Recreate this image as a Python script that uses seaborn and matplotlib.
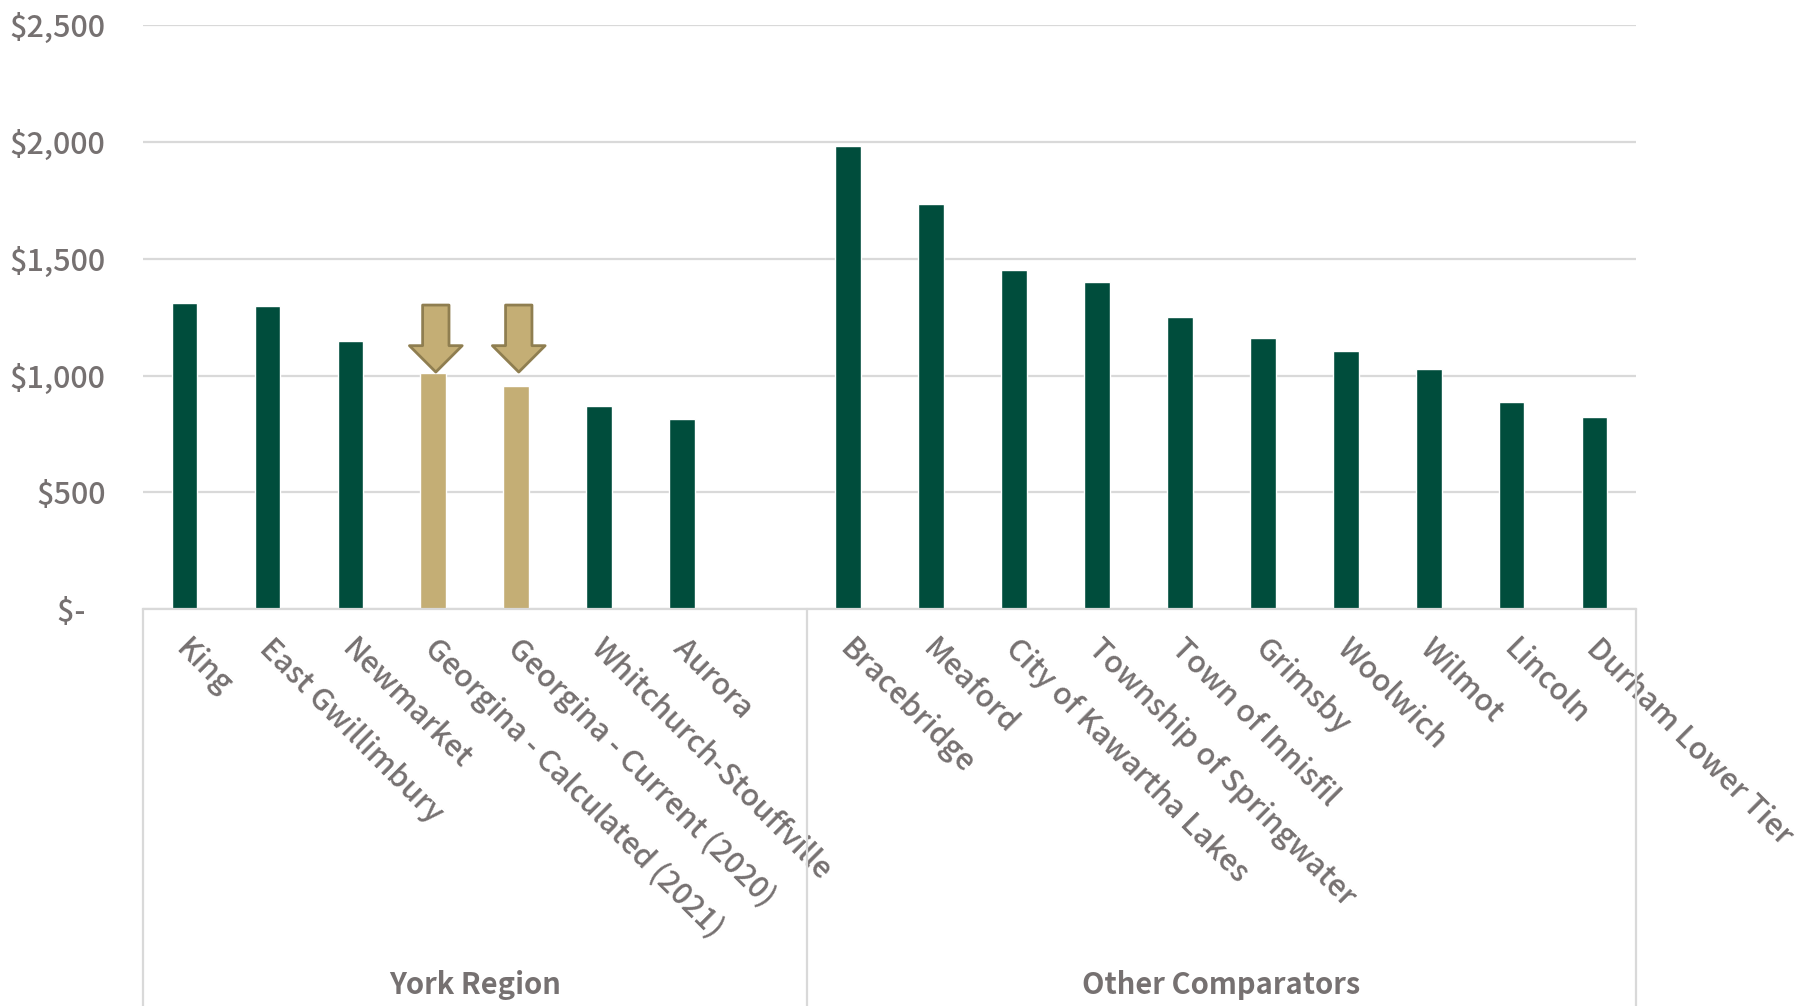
import matplotlib
matplotlib.use("Agg")
import matplotlib.pyplot as plt
from matplotlib.patches import FancyArrowPatch
from matplotlib.transforms import blended_transform_factory, ScaledTranslation
import seaborn as sns
import pandas as pd

# Annual cost by municipality, grouped by comparator set
york_names = ["King", "East Gwillimbury", "Newmarket", "Georgina - Calculated (2021)",
              "Georgina - Current (2020)", "Whitchurch-Stouffville", "Aurora"]
york_values = [1310, 1297, 1149, 1010, 955, 871, 812]

other_names = ["Bracebridge", "Meaford", "City of Kawartha Lakes", "Township of Springwater",
               "Town of Innisfil", "Grimsby", "Woolwich", "Wilmot", "Lincoln", "Durham Lower Tier"]
other_values = [1983, 1736, 1451, 1399, 1249, 1159, 1106, 1029, 887, 824]

highlighted = ["Georgina - Calculated (2021)", "Georgina - Current (2020)"]
group_names = ["York Region", "Other Comparators"]

y_ticks = [0, 500, 1000, 1500, 2000, 2500]
y_tick_labels = ["$-   ", "$500", "$1,000", "$1,500", "$2,000", "$2,500"]

# Pointer arrows drawn above the Georgina bars (value scale)
arrow_top = 1302
arrow_tip = 1015

GREEN = "#004D3C"
TAN = "#C4AE75"
TAN_EDGE = "#8F7E50"
GRID = "#D9D9D9"
TEXT = "#767171"

spacer = " "
order = york_names + [spacer] + other_names
df = pd.DataFrame({
    "name": york_names + other_names,
    "value": york_values + other_values,
})
df["kind"] = ["highlight" if n in highlighted else "base" for n in df["name"]]

sns.set_theme(style="white")
plt.rcParams["font.family"] = ["Noto Sans CJK JP", "DejaVu Sans"]

fig = plt.figure(figsize=(18.08, 10.06), dpi=100)
ax = fig.add_axes([0.0791, 0.3946, 0.9049 - 0.0791, 0.9748 - 0.3946])

sns.barplot(data=df, x="name", y="value", hue="kind", order=order,
            palette={"base": GREEN, "highlight": TAN}, dodge=False,
            width=0.31, legend=False, ax=ax, saturation=1)

ax.set_xlim(-0.5, len(order) - 0.5)
ax.set_ylim(0, 2500)
ax.set_yticks(y_ticks)
ax.set_yticklabels(y_tick_labels)
ax.yaxis.grid(True, color=GRID, linewidth=1.6)
ax.set_axisbelow(True)
for s in ["top", "right", "left"]:
    ax.spines[s].set_visible(False)
ax.spines["bottom"].set_color(GRID)
ax.spines["bottom"].set_linewidth(1.6)
ax.set_xlabel("")
ax.set_ylabel("")
ax.tick_params(axis="y", length=0, pad=27, labelsize=22, labelcolor=TEXT)
ax.tick_params(axis="x", length=0, pad=17, labelsize=21.8, labelcolor=TEXT)
for lab in ax.get_yticklabels():
    lab.set_fontweight("medium")
ax.set_xticks(range(len(order)))
ax.set_xticklabels(order, rotation=-45, ha="left", va="top", rotation_mode="anchor",
                   fontweight="medium")
shift = ScaledTranslation(7 / 100, 0, fig.dpi_scale_trans)
for lab in ax.get_xticklabels():
    lab.set_transform(lab.get_transform() + shift)

# Arrows pointing at the two Georgina bars
for name in highlighted:
    xpos = order.index(name)
    arr = FancyArrowPatch((xpos + 0.03, arrow_top), (xpos + 0.03, arrow_tip),
                          arrowstyle="simple,head_length=1.9,head_width=3.8,tail_width=1.9",
                          mutation_scale=10, facecolor=TAN, edgecolor=TAN_EDGE,
                          linewidth=2, shrinkA=0, shrinkB=0, zorder=5)
    ax.add_patch(arr)

# Group separators and group labels below the category labels
trans = blended_transform_factory(ax.transData, fig.transFigure)
bounds = [-0.5, len(york_names) + 0.5, len(order) - 0.5]
for b in bounds:
    ax.plot([b, b], [0.3946, 0.0], transform=trans, color=GRID, linewidth=1.6,
            clip_on=False, zorder=1)
centers = [(bounds[0] + bounds[1]) / 2, (bounds[1] + bounds[2]) / 2]
for c, g in zip(centers, group_names):
    ax.text(c, 0.021, g, transform=trans, ha="center", va="center",
            fontsize=21, fontweight="bold", color=TEXT)

fig.savefig("out.png", dpi=100)
